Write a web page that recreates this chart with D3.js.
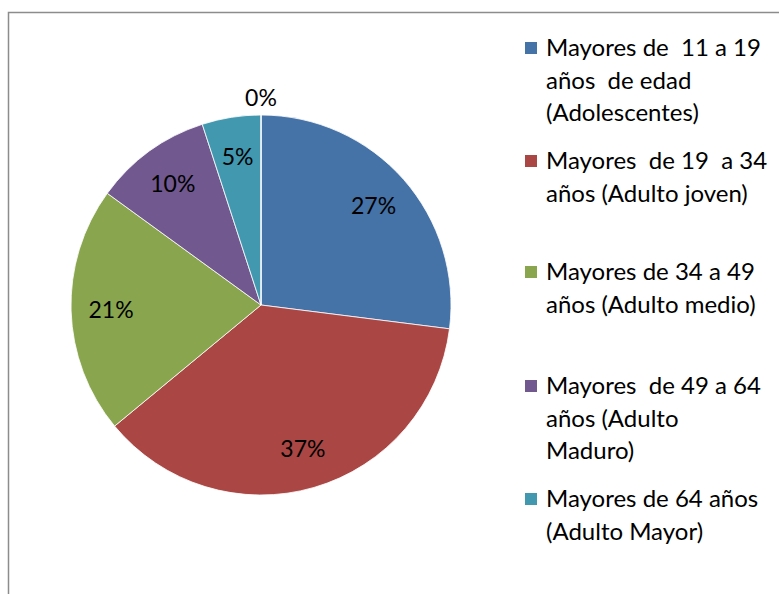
<!DOCTYPE html>
<html>
<head>
<meta charset="utf-8">
<script src="https://cdn.jsdelivr.net/npm/d3@7"></script>
<style>
  html, body { margin: 0; padding: 0; background: #fff; }
  svg { display: block; font-family: Lato, "Open Sans", sans-serif; }
</style>
</head>
<body>
<svg id="chart" width="779" height="594"></svg>
<script>
// slices go clockwise from 12 o'clock, last one is the empty 0% slice
const categories = [
  "Mayores de  11 a 19 años  de edad (Adolescentes)",
  "Mayores  de 19  a 34 años (Adulto joven)",
  "Mayores de 34 a 49 años (Adulto medio)",
  "Mayores  de 49 a 64 años (Adulto Maduro)",
  "Mayores de 64 años (Adulto Mayor)",
  ""
]
const values = [27, 37, 21, 10, 5, 0]
const colors = ["#4572A7", "#AA4643", "#89A54E", "#71588F", "#4198AF", "#DB843D"]
const legendLines = [
  ["Mayores de  11 a 19", "años  de edad", "(Adolescentes)"],
  ["Mayores  de 19  a 34", "años (Adulto joven)"],
  ["Mayores de 34 a 49", "años (Adulto medio)"],
  ["Mayores  de 49 a 64", "años (Adulto", "Maduro)"],
  ["Mayores de 64 años", "(Adulto Mayor)"]
]
const legendTops = [48, 161, 272, 386, 499]

var svg = d3.select("#chart"),
    cx = 261, cy = 305, R = 190;

// chart frame, runs off the right and bottom edges
svg.append("rect")
    .attr("x", 8.5).attr("y", 12.5)
    .attr("width", 800).attr("height", 600)
    .attr("fill", "none")
    .attr("stroke", "#8c8c8c")
    .attr("stroke-width", 1.5);

var pie = d3.pie().sort(null).value(d => d)
var arcs = pie(values)
var arc = d3.arc().innerRadius(0).outerRadius(R)
var labelArc = d3.arc().innerRadius(150).outerRadius(150)

var g = svg.append("g").attr("transform", `translate(${cx},${cy})`)

g.selectAll("path")
  .data(arcs)
  .enter().append("path")
    .attr("d", arc)
    .attr("fill", (d, i) => colors[i])
    .attr("stroke", "#fff")
    .attr("stroke-width", 0.8)
    .attr("stroke-linejoin", "round");

g.selectAll("text.lbl")
  .data(arcs)
  .enter().append("text")
    .attr("class", "lbl")
    .attr("transform", d => {
      if (d.value === 0) return `translate(0,${-R - 17})`
      return `translate(${labelArc.centroid(d)})`
    })
    .attr("text-anchor", "middle")
    .attr("dy", "0.35em")
    .attr("font-size", 23)
    .attr("fill", "#000")
    .text(d => d.value + "%");

var legend = svg.append("g")
  .selectAll("g")
  .data(legendLines)
  .enter().append("g")
    .attr("transform", (d, i) => `translate(525,${legendTops[i]})`);

legend.append("rect")
    .attr("x", 0).attr("y", -6)
    .attr("width", 12).attr("height", 12)
    .attr("fill", (d, i) => colors[i]);

legend.each(function(lines) {
  d3.select(this).selectAll("text")
    .data(lines)
    .enter().append("text")
      .attr("x", 21)
      .attr("y", (l, j) => j * 32.5)
      .attr("dy", "0.35em")
      .attr("font-size", 24)
      .attr("fill", "#000")
      .style("white-space", "pre")
      .text(l => l);
});
</script>
</body>
</html>
